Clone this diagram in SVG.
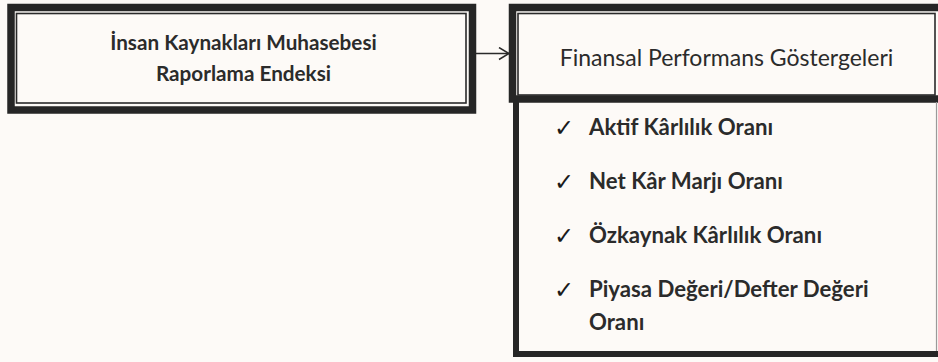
<svg xmlns="http://www.w3.org/2000/svg" width="938" height="362" viewBox="0 0 938 362">
  <defs>
    <marker id="arrow" viewBox="0 0 12 14" refX="11" refY="7" markerWidth="12" markerHeight="14" markerUnits="userSpaceOnUse" orient="auto">
      <path d="M1 1 L11 7 L1 13" fill="none" stroke="#2a2a2a" stroke-width="1.5"/>
    </marker>
  </defs>
  <style>
    .thick { fill: none; stroke: #262626; }
    .thin { fill: none; stroke: #2a2a2a; stroke-width: 1.6; }
    .t { font-family: Lato, "Open Sans", "Liberation Sans", sans-serif; fill: #2b2b2b; }
    .b { font-weight: bold; }
    .li { font-size: 22.2px; }
    .chk { font-family: "DejaVu Sans", sans-serif; font-size: 24px; font-weight: bold; fill: #1a1a1a; }
  </style>
  <rect width="938" height="362" fill="#fdfaf7"/>

  <g id="connectors">
    <line x1="476" y1="53.5" x2="509" y2="53.5" stroke="#2a2a2a" stroke-width="1.5" marker-end="url(#arrow)"/>
  </g>

  <g id="node-ik-raporlama">
    <rect class="thick" x="11" y="7.5" width="461.5" height="102.5" stroke-width="7.5" fill="#fefcfa"/>
    <rect class="thin" x="16.5" y="13.5" width="449.5" height="89.5"/>
    <text class="t b" x="243.5" y="50" font-size="20.7" text-anchor="middle">İnsan Kaynakları Muhasebesi</text>
    <text class="t b" x="243.5" y="81" font-size="20.7" text-anchor="middle">Raporlama Endeksi</text>
  </g>

  <g id="node-finansal-header">
    <rect class="thick" x="512.5" y="7.5" width="440" height="91.5" stroke-width="7.5" fill="#fefcfa"/>
    <rect class="thin" x="518" y="13.5" width="417" height="81.5"/>
    <text class="t" x="726.5" y="66" font-size="23" text-anchor="middle" fill="#262626">Finansal Performans Göstergeleri</text>
  </g>

  <g id="node-finansal-list">
    <path class="thick" d="M516 99 V354 H950" stroke-width="6"/>
    <line x1="936.5" y1="102" x2="936.5" y2="351" stroke="#9a9a9a" stroke-width="1.2"/>
    <text class="chk" x="554" y="135.5">✓</text>
    <text class="t b li" x="589" y="135">Aktif Kârlılık Oranı</text>
    <text class="chk" x="554" y="189.5">✓</text>
    <text class="t b li" x="589" y="189">Net Kâr Marjı Oranı</text>
    <text class="chk" x="554" y="243.5">✓</text>
    <text class="t b li" x="589" y="243">Özkaynak Kârlılık Oranı</text>
    <text class="chk" x="554" y="297.5">✓</text>
    <text class="t b li" x="589" y="297">Piyasa Değeri/Defter Değeri</text>
    <text class="t b li" x="589" y="330">Oranı</text>
  </g>
</svg>
